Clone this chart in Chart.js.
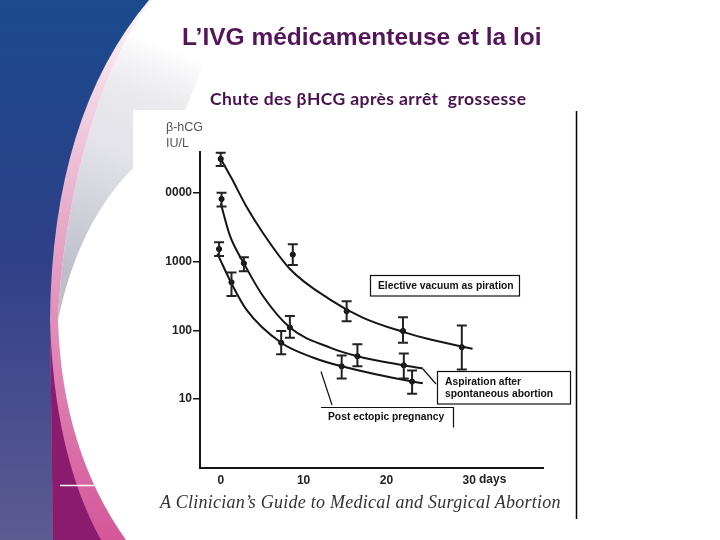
<!DOCTYPE html>
<html>
<head>
<meta charset="utf-8">
<script src="https://cdn.jsdelivr.net/npm/chart.js@4.4.0/dist/chart.umd.min.js"></script>
<style>
  body { margin: 0; background: #fff; }
  .slide { position: relative; width: 720px; height: 540px; overflow: hidden; }
  .slide canvas { position: absolute; left: 0; top: 0; }
  .txt { position: absolute; white-space: nowrap; line-height: 1; }
  .title { left: 182px; top: 22.5px; font: bold 24.5px "Liberation Sans", Arial, sans-serif; color: #55155a; }
  .subtitle { left: 210px; top: 88px; font: bold 17.5px Lato, "Noto Sans", sans-serif; color: #4a1050; letter-spacing: 0.4px; }
  .caption { left: 160px; top: 492px; font: italic 18px "Liberation Serif", "DejaVu Serif", serif; color: #333; letter-spacing: 0.25px; }
</style>
</head>
<body>
<div class="slide">
  <canvas id="hcg" width="720" height="540"></canvas>
  <div class="txt title">L’IVG médicamenteuse et la loi</div>
  <div class="txt subtitle">Chute des βHCG après arrêt&nbsp; grossesse</div>
  <div class="txt caption">A Clinician’s Guide to Medical and Surgical Abortion</div>
</div>
<script>
var elecDays = [0, 8.7, 15.2, 22, 29.1];
var elecMean = [31000, 1260, 190, 98, 57];
var elecLo = [24500, 890, 135, 66, 27];
var elecHi = [38000, 1780, 265, 155, 118];

var aspDays = [0.1, 2.8, 8.35, 16.5, 22.1];
var aspMean = [8100, 940, 110, 42, 31];
var aspLo = [6300, 720, 78, 30, 20];
var aspHi = [10000, 1150, 162, 63, 46];

var ectDays = [-0.2, 1.3, 7.3, 14.6, 23.1];
var ectMean = [1520, 500, 66, 30, 18];
var ectLo = [1200, 315, 45, 20, 12];
var ectHi = [1900, 690, 98, 43, 26];

// fitted curves
var elecFitDays = [0, 1.3, 3.1, 5.1, 8.35, 13.2, 17.2, 22, 25.2, 30.4];
var elecFit = [31000, 16300, 6300, 2600, 780, 280, 152, 95, 74, 54];
var aspFitDays = [0, 1.1, 2.8, 5.1, 8.35, 13.2, 16.5, 22.1, 24.4];
var aspFit = [7000, 2400, 940, 315, 110, 56, 42, 31, 28];
var ectFitDays = [-0.4, 1.3, 3.1, 7.3, 11.2, 14.6, 23.1, 24.4];
var ectFit = [1300, 480, 200, 66, 40, 30, 18, 17];

var yTicks = [10, 100, 1000, 10000];
var yTickLabels = ['10', '100', '1000', '0000'];
var xTicks = [0, 10, 20, 30];

function pts(xs, ys) {
  return xs.map(function (x, i) { return { x: x, y: ys[i] }; });
}

var ink = '#151515';

function curve(xs, ys) {
  return {
    type: 'line', data: pts(xs, ys), borderColor: ink, borderWidth: 2,
    pointRadius: 0, tension: 0.4, cubicInterpolationMode: 'monotone', fill: false
  };
}
function marks(xs, ys) {
  return {
    type: 'scatter', data: pts(xs, ys), pointRadius: 2.6,
    backgroundColor: ink, borderColor: ink, borderWidth: 1
  };
}

var errorSets = [
  [elecDays, elecLo, elecHi],
  [aspDays, aspLo, aspHi],
  [ectDays, ectLo, ectHi]
];

var slideBackground = {
  id: 'slideBackground',
  beforeDraw: function (chart) {
    var ctx = chart.ctx;
    ctx.save();
    ctx.fillStyle = '#fff';
    ctx.fillRect(0, 0, 720, 540);

    // soft grey wedge right of the pink strip
    var g = ctx.createLinearGradient(150, 40, 60, 270);
    g.addColorStop(0, 'rgba(200,200,210,0)');
    g.addColorStop(0.45, '#e4e4ea');
    g.addColorStop(1, '#bfbfca');
    ctx.fillStyle = g;
    ctx.beginPath();
    ctx.moveTo(152, 0);
    ctx.bezierCurveTo(110, 50, 66, 170, 58, 320);
    ctx.quadraticCurveTo(85, 190, 175, 135);
    ctx.lineTo(230, 0);
    ctx.closePath();
    ctx.fill();

    // pink strip
    var p = ctx.createLinearGradient(0, 20, 0, 540);
    p.addColorStop(0, '#faeef4');
    p.addColorStop(0.4, '#e6a8c8');
    p.addColorStop(1, '#d4579a');
    ctx.fillStyle = p;
    ctx.beginPath();
    ctx.moveTo(0, 0);
    ctx.lineTo(152, 0);
    ctx.bezierCurveTo(110, 50, 66, 170, 58, 320);
    ctx.quadraticCurveTo(62, 450, 126, 540);
    ctx.lineTo(0, 540);
    ctx.closePath();
    ctx.fill();

    // blue band
    var b = ctx.createLinearGradient(0, 0, 0, 540);
    b.addColorStop(0, '#1b4a8e');
    b.addColorStop(0.45, '#2c3f88');
    b.addColorStop(1, '#5e5a92');
    ctx.fillStyle = b;
    ctx.beginPath();
    ctx.moveTo(0, 0);
    ctx.lineTo(149, 0);
    ctx.quadraticCurveTo(52, 115, 50, 320);
    ctx.lineTo(53, 540);
    ctx.lineTo(0, 540);
    ctx.closePath();
    ctx.fill();

    // magenta band
    ctx.fillStyle = '#8b1b6f';
    ctx.beginPath();
    ctx.moveTo(50, 320);
    ctx.quadraticCurveTo(54, 455, 101, 540);
    ctx.lineTo(53, 540);
    ctx.closePath();
    ctx.fill();

    ctx.strokeStyle = '#fff';
    ctx.lineWidth = 1.5;
    ctx.beginPath();
    ctx.moveTo(60, 485.5);
    ctx.lineTo(98, 485.5);
    ctx.stroke();

    // scanned figure area
    ctx.fillStyle = '#fff';
    ctx.fillRect(133, 110, 443, 412);
    ctx.strokeStyle = '#000';
    ctx.lineWidth = 1.5;
    ctx.beginPath();
    ctx.moveTo(576.5, 111);
    ctx.lineTo(576.5, 519);
    ctx.stroke();
    ctx.restore();
  }
};

var errorBars = {
  id: 'errorBars',
  afterDatasetsDraw: function (chart) {
    var ctx = chart.ctx, xs = chart.scales.x, ys = chart.scales.y;
    ctx.save();
    ctx.strokeStyle = '#222';
    ctx.lineWidth = 2;
    errorSets.forEach(function (set) {
      set[0].forEach(function (d, i) {
        var x = xs.getPixelForValue(d);
        var y1 = ys.getPixelForValue(set[1][i]);
        var y2 = ys.getPixelForValue(set[2][i]);
        ctx.beginPath();
        ctx.moveTo(x, y1); ctx.lineTo(x, y2);
        ctx.moveTo(x - 5, y1); ctx.lineTo(x + 5, y1);
        ctx.moveTo(x - 5, y2); ctx.lineTo(x + 5, y2);
        ctx.stroke();
      });
    });
    ctx.restore();
  }
};

var labels = {
  id: 'labels',
  afterDraw: function (chart) {
    var ctx = chart.ctx;
    ctx.save();
    ctx.fillStyle = '#555';
    ctx.font = '12.5px "Liberation Sans", Arial, sans-serif';
    ctx.textBaseline = 'middle';
    ctx.fillText('β-hCG', 166, 128);
    ctx.fillText('IU/L', 166, 144);

    ctx.fillStyle = '#222';
    ctx.font = 'bold 12px "Liberation Sans", Arial, sans-serif';
    ctx.fillText('days', 479, 480);

    ctx.strokeStyle = '#111';
    ctx.lineWidth = 1.2;
    ctx.strokeRect(370.5, 275.5, 149, 20.5);
    ctx.strokeRect(437.5, 371.5, 133, 32.5);
    ctx.beginPath();
    ctx.moveTo(321, 407.5); ctx.lineTo(453.5, 407.5); ctx.lineTo(453.5, 427.5);
    ctx.moveTo(423, 369); ctx.lineTo(436, 384);
    ctx.moveTo(321, 371.5); ctx.lineTo(332, 405);
    ctx.stroke();

    ctx.fillStyle = '#111';
    ctx.font = 'bold 10.3px "Liberation Sans", Arial, sans-serif';
    ctx.fillText('Elective vacuum as piration', 378, 286);
    ctx.fillText('Aspiration after', 445, 382);
    ctx.fillText('spontaneous abortion', 445, 394);
    ctx.fillText('Post ectopic pregnancy', 328, 417);
    ctx.restore();
  }
};

new Chart(document.getElementById('hcg'), {
  data: {
    datasets: [
      curve(elecFitDays, elecFit),
      curve(aspFitDays, aspFit),
      curve(ectFitDays, ectFit),
      marks(elecDays, elecMean),
      marks(aspDays, aspMean),
      marks(ectDays, ectMean)
    ]
  },
  options: {
    responsive: false,
    animation: false,
    devicePixelRatio: 1,
    layout: { padding: { left: 140, top: 152, right: 177, bottom: 42 } },
    plugins: { legend: { display: false }, tooltip: { enabled: false } },
    scales: {
      x: {
        type: 'linear', min: -2.5, max: 38.9,
        afterFit: function (s) { s.height = 30; },
        afterBuildTicks: function (s) { s.ticks = xTicks.map(function (v) { return { value: v }; }); },
        grid: { display: false, drawTicks: false },
        border: { display: true, color: ink, width: 2 },
        ticks: { padding: 5, color: '#222', font: { family: 'Liberation Sans', size: 12, weight: 'bold' } }
      },
      y: {
        type: 'logarithmic', min: 1, max: 39000,
        afterFit: function (s) { s.width = 60; },
        afterBuildTicks: function (s) { s.ticks = yTicks.map(function (v) { return { value: v }; }); },
        grid: { drawOnChartArea: false, drawTicks: true, tickLength: 7, color: ink, lineWidth: 1.5 },
        border: { display: true, color: ink, width: 2 },
        ticks: {
          padding: 1, color: '#222', font: { family: 'Liberation Sans', size: 12, weight: 'bold' },
          callback: function (v) { var i = yTicks.indexOf(v); return i < 0 ? '' : yTickLabels[i]; }
        }
      }
    }
  },
  plugins: [slideBackground, errorBars, labels]
});
</script>
</body>
</html>
